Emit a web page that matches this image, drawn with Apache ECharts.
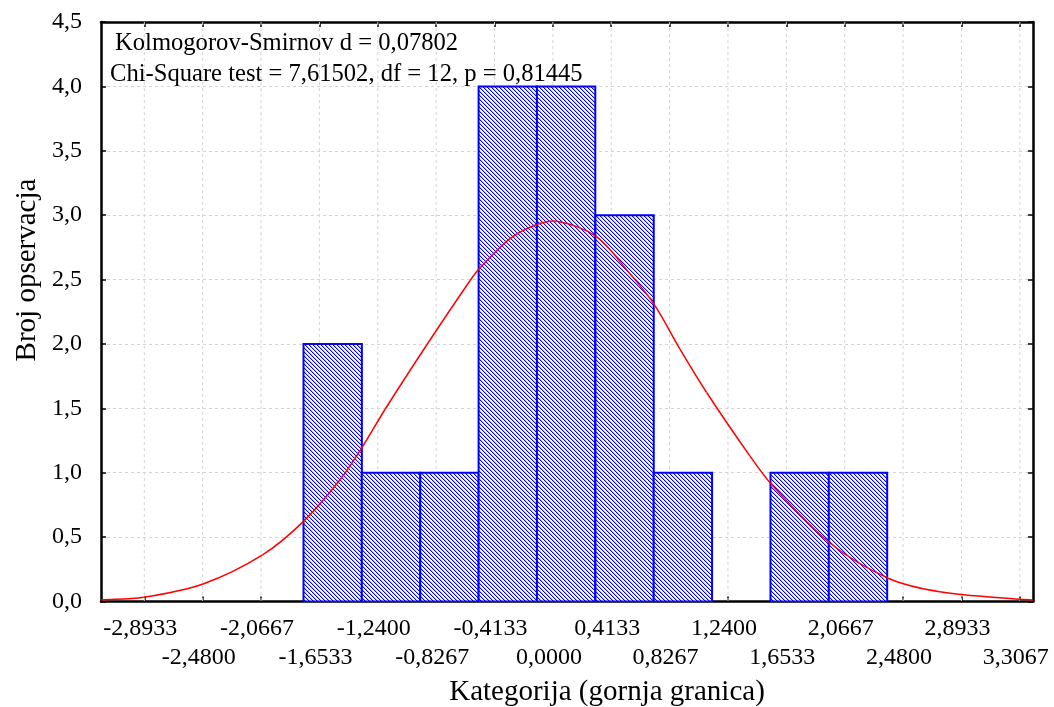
<!DOCTYPE html>
<html>
<head>
<meta charset="utf-8">
<script src="https://cdn.jsdelivr.net/npm/echarts@6/dist/echarts.min.js"></script>
<style>
html,body{margin:0;padding:0;background:#fff;}
#chart{width:1054px;height:707px;}
</style>
</head>
<body>
<div id="chart"></div>
<script>
// ---- data ----
var binLower = [-1.766, -1.353, -0.939, -0.526, -0.113, 0.301, 0.714, 1.127, 1.541, 1.954];
var binWidth = 0.41333;
var counts = [2, 1, 1, 4, 4, 3, 1, 0, 1, 1];

var tickValues = [-2.8933, -2.48, -2.0667, -1.6533, -1.24, -0.8267, -0.4133, 0, 0.4133, 0.8267, 1.24, 1.6533, 2.0667, 2.48, 2.8933, 3.3067];
var tickLabels = ['-2,8933', '-2,4800', '-2,0667', '-1,6533', '-1,2400', '-0,8267', '-0,4133', '0,0000', '0,4133', '0,8267', '1,2400', '1,6533', '2,0667', '2,4800', '2,8933', '3,3067'];

var curveX = [-3.198, -2.898, -2.478, -2.056, -1.766, -1.506, -1.3525, -1.188, -0.8925, -0.586, -0.522, -0.303, -0.114, 0.028, 0.311, 0.546, 0.723, 0.900, 1.089, 1.396, 1.549, 1.962, 2.375, 2.740, 3.307, 3.399];
var curveY = [0.012, 0.033, 0.136, 0.362, 0.622, 0.947, 1.194, 1.493, 1.994, 2.493, 2.584, 2.818, 2.927, 2.952, 2.831, 2.545, 2.298, 1.960, 1.623, 1.129, 0.908, 0.454, 0.181, 0.076, 0.017, 0.012];

var yTickLabels = ['0,0', '0,5', '1,0', '1,5', '2,0', '2,5', '3,0', '3,5', '4,0', '4,5'];

var kstext = 'Kolmogorov-Smirnov d = 0,07802';
var chitext = 'Chi-Square test = 7,61502, df = 12, p = 0,81445';
var xTitle = 'Kategorija (gornja granica)';
var yTitle = 'Broj opservacja';

// ---- hatch pattern ----
var tile = document.createElement('canvas');
tile.width = 4; tile.height = 4;
var tc = tile.getContext('2d');
tc.fillStyle = '#ffffff';
tc.fillRect(0, 0, 4, 4);
for (var i = 0; i < 4; i++) {
  tc.fillStyle = '#0000ff';
  tc.fillRect(i, i, 1, 1);
  tc.fillStyle = 'rgba(0,0,255,0.3)';
  tc.fillRect((i + 1) % 4, i, 1, 1);
}
var hatch = { image: tile, repeat: 'repeat' };

var barData = [];
for (var b = 0; b < binLower.length; b++) {
  if (counts[b] > 0) barData.push([binLower[b], binLower[b] + binWidth, counts[b]]);
}
var curveData = curveX.map(function (x, k) { return [x, curveY[k]]; });
var gridData = tickValues.map(function (v) { return [v]; });
var row1Values = tickValues.filter(function (v, k) { return k % 2 === 0; });
var row2Values = tickValues.filter(function (v, k) { return k % 2 === 1; });

function xLabel(v) {
  var best = 0;
  for (var k = 0; k < tickValues.length; k++) {
    if (Math.abs(tickValues[k] - v) < Math.abs(tickValues[best] - v)) best = k;
  }
  return tickLabels[best];
}

var FONT = '"Liberation Serif", "Times New Roman", serif';
var labelBase = {
  show: true, formatter: xLabel,
  showMinLabel: true, showMaxLabel: true, hideOverlap: false,
  fontFamily: FONT, fontSize: 24, color: '#000', lineHeight: 29,
  padding: [0, 8, 0, 0]
};
function lbl(values, margin) {
  var o = {};
  for (var k in labelBase) o[k] = labelBase[k];
  o.customValues = values;
  o.margin = margin;
  return o;
}

var chart = echarts.init(document.getElementById('chart'), null, { renderer: 'canvas' });
chart.setOption({
  animation: false,
  backgroundColor: '#fff',
  grid: { left: 101, right: 21, top: 22, bottom: 105.5, show: false, outerBoundsMode: 'none', containLabel: false },
  xAxis: [{
    type: 'value', min: -3.2, max: 3.4, position: 'bottom',
    axisLine: { show: true, onZero: false, lineStyle: { color: '#000', width: 2.5 } },
    axisTick: { show: true, inside: true, length: 5, customValues: tickValues, lineStyle: { color: '#000', width: 1.5 } },
    axisLabel: lbl(row1Values, 13),
    splitLine: { show: false }
  }, {
    type: 'value', min: -3.2, max: 3.4, position: 'top',
    axisLine: { show: true, onZero: false, lineStyle: { color: '#000', width: 2.5 } },
    axisTick: { show: true, inside: true, length: 5, customValues: tickValues, lineStyle: { color: '#000', width: 1.5 } },
    axisLabel: { show: false },
    splitLine: { show: false }
  }, {
    type: 'value', min: -3.2, max: 3.4, position: 'bottom', offset: 0,
    axisLine: { show: false },
    axisTick: { show: false },
    axisLabel: lbl(row2Values, 42),
    splitLine: { show: false }
  }],
  yAxis: [{
    type: 'value', min: 0, max: 4.5, interval: 0.5,
    axisLine: { show: true, onZero: false, lineStyle: { color: '#000', width: 2.5 } },
    axisTick: { show: true, inside: true, length: 5, lineStyle: { color: '#000', width: 1.5 } },
    axisLabel: {
      margin: 19, fontFamily: FONT, fontSize: 24, color: '#000',
      formatter: function (v) { return yTickLabels[Math.round(v / 0.5)]; }
    },
    splitLine: { show: true, lineStyle: { color: '#d4d4d4', type: [3, 3], width: 1 } }
  }, {
    type: 'value', min: 0, max: 4.5, interval: 0.5, position: 'right',
    axisLine: { show: true, onZero: false, lineStyle: { color: '#000', width: 2.5 } },
    axisTick: { show: true, inside: true, length: 5, lineStyle: { color: '#000', width: 1.5 } },
    axisLabel: { show: false },
    splitLine: { show: false }
  }],
  series: [{
    // vertical grid lines at the tick values
    type: 'custom',
    xAxisIndex: 0, yAxisIndex: 0,
    data: gridData,
    silent: true,
    renderItem: function (params, api) {
      var pTop = api.coord([api.value(0), 4.5]);
      var pBot = api.coord([api.value(0), 0]);
      return {
        type: 'line',
        shape: { x1: pTop[0], y1: pTop[1], x2: pBot[0], y2: pBot[1] },
        style: { stroke: '#d4d4d4', lineWidth: 1, lineDash: [3, 3] }
      };
    },
    z: 1
  }, {
    type: 'custom',
    xAxisIndex: 0, yAxisIndex: 0,
    data: barData,
    clip: true,
    renderItem: function (params, api) {
      var p0 = api.coord([api.value(0), api.value(2)]);
      var p1 = api.coord([api.value(1), 0]);
      return {
        type: 'rect',
        shape: { x: p0[0], y: p0[1], width: p1[0] - p0[0], height: p1[1] - p0[1] },
        style: { fill: hatch, stroke: '#0000ff', lineWidth: 2 }
      };
    },
    z: 2
  }, {
    // fitted curve: one smooth cubic (Hermite in x) segment between consecutive read points
    type: 'custom',
    xAxisIndex: 0, yAxisIndex: 0,
    data: curveData.slice(0, curveData.length - 1),
    clip: true,
    silent: true,
    renderItem: function (params, api) {
      var k = params.dataIndex;
      var n = curveData.length;
      function P(j) { return api.coord(curveData[Math.max(0, Math.min(n - 1, j))]); }
      function slope(j) {
        var a = P(j - 1), c = P(j + 1);
        if (j === 0) a = P(0);
        if (j === n - 1) c = P(n - 1);
        return (c[1] - a[1]) / (c[0] - a[0]);
      }
      var P1 = P(k), P2 = P(k + 1);
      var dx = P2[0] - P1[0];
      var m1 = slope(k), m2 = slope(k + 1);
      return {
        type: 'bezierCurve',
        shape: {
          x1: P1[0], y1: P1[1], x2: P2[0], y2: P2[1],
          cpx1: P1[0] + dx / 3, cpy1: P1[1] + m1 * dx / 3,
          cpx2: P2[0] - dx / 3, cpy2: P2[1] - m2 * dx / 3
        },
        style: { stroke: '#ff0000', lineWidth: 1.5, fill: null }
      };
    },
    z: 3
  }],
  graphic: [
    { type: 'text', left: 115, top: 31, style: { text: kstext, font: '24.6px ' + FONT, fill: '#000' }, z: 10 },
    { type: 'text', left: 110, top: 62, style: { text: chitext, font: '24.6px ' + FONT, fill: '#000' }, z: 10 },
    { type: 'text', x: 607, y: 692, style: { text: xTitle, font: '29px ' + FONT, fill: '#000', align: 'center', verticalAlign: 'middle' }, z: 10 },
    { type: 'text', x: 27, y: 270, rotation: Math.PI / 2, style: { text: yTitle, font: '29px ' + FONT, fill: '#000', align: 'center', verticalAlign: 'middle' }, z: 10 }
  ]
});
</script>
</body>
</html>
